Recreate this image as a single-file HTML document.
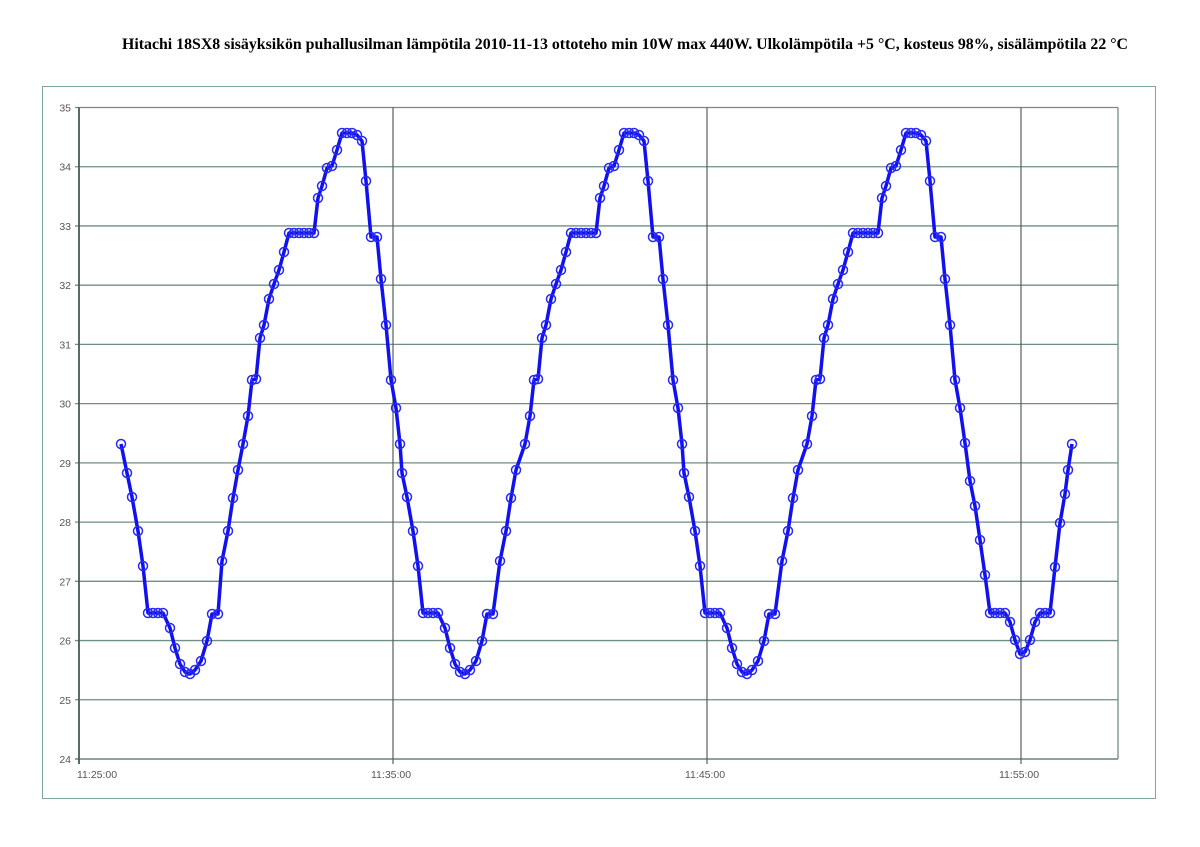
<!DOCTYPE html>
<html><head><meta charset="utf-8"><style>
html,body{margin:0;padding:0;background:#fff;width:1200px;height:847px;overflow:hidden}
</style></head><body>
<svg id="s" width="1200" height="847" xmlns="http://www.w3.org/2000/svg">
<text x="625" y="49" text-anchor="middle" font-family="Liberation Serif, serif" font-weight="bold" font-size="15.8" fill="#000" textLength="1006" lengthAdjust="spacingAndGlyphs">Hitachi 18SX8 sisäyksikön puhallusilman lämpötila 2010-11-13 ottoteho min 10W max 440W. Ulkolämpötila +5 °C, kosteus 98%, sisälämpötila 22 °C</text>
<rect x="42.5" y="86.5" width="1113" height="712" fill="none" stroke="#7aa89a" stroke-width="1"/>
<g id="grid"></g>
<g id="data"></g>
</svg>
<script>
var ns="http://www.w3.org/2000/svg",g=document.getElementById('grid'),d=document.getElementById('data');
function el(p,t,a,txt){var e=document.createElementNS(ns,t);for(var k in a)e.setAttribute(k,a[k]);if(txt)e.textContent=txt;p.appendChild(e);return e;}
var L=79,R=1118,T=107.5,B=759;
for(var v=24;v<=35;v++){var y=B-(v-24)*(B-T)/11;
 el(g,'line',{x1:L-4,x2:R,y1:y,y2:y,stroke:v==24?'#4a6a60':'#6d8f85','stroke-width':1.3});
 el(g,'text',{x:L-8,y:y+4,'text-anchor':'end','font-family':'Liberation Sans, sans-serif','font-size':10.5,fill:'#555'},String(v));}
var xs=[79,393,707,1021],lb=['11:25:00','11:35:00','11:45:00','11:55:00'];
for(var i=0;i<4;i++){el(g,'line',{x1:xs[i],x2:xs[i],y1:T,y2:B+5,stroke:i==0?'#4a5a55':'#55605c','stroke-width':i==0?1.8:1.2});
 el(g,'text',{x:xs[i]+(i==0?-2:-22),y:B+19,'font-family':'Liberation Sans, sans-serif','font-size':10.5,fill:'#555'},lb[i]);}
el(g,'line',{x1:R,x2:R,y1:T,y2:B,stroke:'#6d8f85','stroke-width':1.3});
var t=[[121,444],[127,473],[132,497],[138,531],[143,566],[148,613],[153,613],[158,613],[163,613],[170,628],[175,648],[180,664],[185,672],[190,674],[195,670],[201,661],[207,641],[212,614],[218,614],[222,561],[228,531],[233,498],[238,470],[243,444],[248,416],[252,380],[256,379],[260,338],[264,325],[269,299],[274,284],[279,270],[284,252],[289,233],[294,233],[299,233],[304,233],[309,233],[314,233],[318,198],[322,186],[327,168],[332,166],[337,150],[342,133],[347,133],[352,133],[357,135],[362,141],[366,181],[371,237],[377,237],[381,279],[386,325],[391,380],[396,408]];
var out=[];
for(var c=0;c<3;c++){var sh=c*282;for(var j=0;j<t.length;j++){var p=t[j];var dx=0;if(c>0){if(j==0)dx=-3;else if(j>=1&&j<=18)dx=-7;else if(j>=19&&j<=22)dx=-4;}out.push([p[0]+sh+dx,p[1]]);}}
var tail=[[965,443],[970,481],[975,506],[980,540],[985,575],[990,613],[995,613],[1000,613],[1005,613],[1010,622],[1015,640],[1020,654],[1025,652],[1030,640],[1035,622],[1040,613],[1045,613],[1050,613],[1055,567],[1060,523],[1065,494],[1068,470],[1072,444]];
out=out.concat(tail);
var s=out.map(function(p){return p.join(',')}).join(' ');
el(d,'polyline',{points:s,fill:'none',stroke:'#1010f0','stroke-width':3.5,'stroke-linejoin':'round'});
out.forEach(function(p){el(d,'circle',{cx:p[0],cy:p[1],r:4.5,fill:'none',stroke:'#2a2af5','stroke-width':1.5});});
</script>
</body></html>
